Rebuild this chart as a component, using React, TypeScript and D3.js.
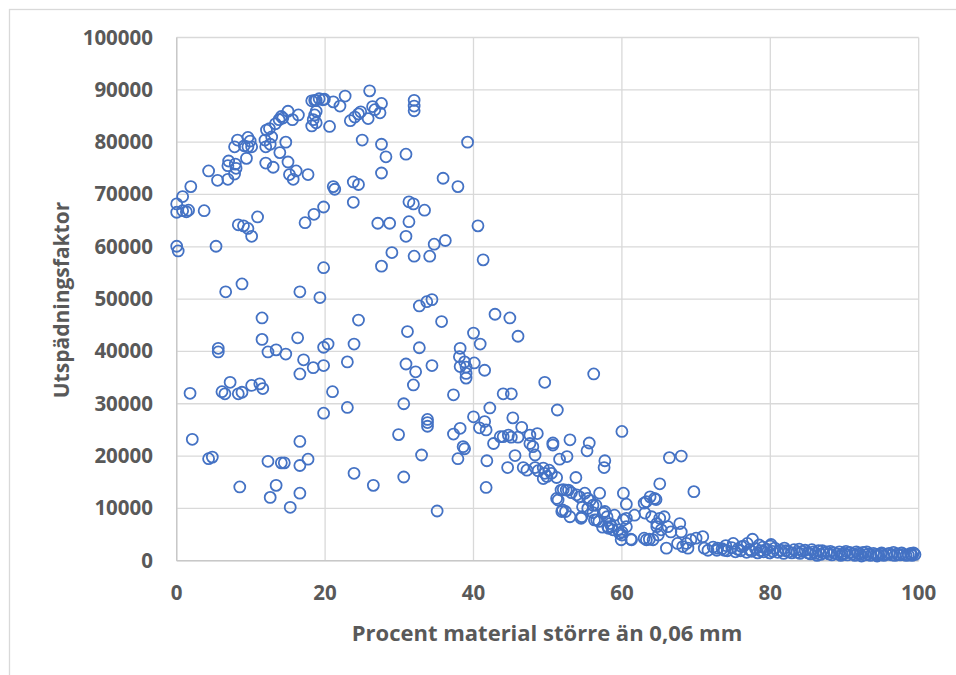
import React from "react";
import * as d3 from "d3";

// Procent material större än 0,06 mm (x) and Utspädningsfaktor (y)
const percentCoarse: number[] = [
  // upper cloud
  0, 0.8, 1.9, 0, 0.8, 1.3, 1.6, 3.7, 4.3, 5.5, 7.0, 6.9, 7.9, 8.0, 7.8, 6.9, 7.8, 8.2, 9.4, 9.6, 9.9, 10.1, 9.6, 9.1,
  12.0, 12.1, 12.5, 11.9, 12.8, 12.6, 12.0, 13.0, 13.9, 13.3, 13.8, 14.1, 14.3, 15.0, 15.6, 16.4, 14.7, 15.0, 15.2, 15.7,
  16.1, 17.7, 18.2, 18.6, 18.8, 19.2, 19.7, 19.9, 18.6, 18.8, 18.4, 18.2, 18.8, 20.6, 21.1, 22.0, 22.7, 26.0, 23.4, 24.0,
  24.5, 24.8, 25.8, 26.4, 26.7, 27.4, 27.6, 25.0, 27.6, 28.2, 27.6, 30.9, 32.0, 32.0, 32.0, 39.2, 35.9, 37.9, 21.1, 21.3,
  23.8, 24.5, 23.8, 19.8, 18.5, 17.3, 27.1, 28.7, 31.3, 31.9, 33.4, 31.3, 30.9, 34.7, 36.2, 29.0, 27.6, 32.0, 34.1, 40.6,
  41.3, 8.3, 9.0, 9.6, 10.1, 10.9, 5.3, 0, 0.2, 6.6, 8.8, 16.6, 19.3, 19.8, 11.5, 24.5, 32.7, 33.7, 34.4, 35.7, 31.1, 40.0,
  42.9, 44.9, 46.0, 40.9,
  // middle cloud
  11.5, 16.3, 5.6, 5.6, 12.3, 13.4, 14.7, 17.1, 18.4, 19.8, 19.8, 20.4, 16.6, 23.9, 23.0, 21.0, 30.9, 32.2, 31.9, 32.7,
  34.4, 38.2, 38.1, 38.2, 38.8, 39.0, 39.0, 39.0, 40.1, 41.5, 37.3, 1.8, 6.1, 6.5, 7.2, 8.3, 8.8, 10.1, 11.2, 11.6,
  // lower cloud
  23.0, 19.8, 30.6, 33.8, 33.8, 33.8, 37.3, 38.2, 40.0, 40.8, 41.5, 41.7, 42.2, 29.9, 38.6, 38.8, 37.9, 33.0, 2.1, 4.3,
  4.8, 16.6, 12.3, 14.1, 14.5, 16.6, 17.7, 23.9, 26.5, 30.6, 8.5, 13.4, 12.6, 16.6, 15.3, 35.1, 42.7, 43.6, 41.8, 41.7,
  // descending band 40-62
  49.6, 44.0, 45.1, 51.3, 45.3, 46.5, 60.0, 48.6, 47.6, 44.0, 44.7, 45.1, 46.0, 47.6, 48.0, 48.3, 50.7, 50.7, 53.0, 55.6,
  55.3, 57.7, 57.6, 51.6, 52.6, 45.6, 44.6, 46.7, 47.2, 48.3, 48.7, 49.4, 49.6, 49.9, 50.2, 50.5, 51.2, 49.4, 53.8, 52.1,
  52.8, 53.2, 51.2, 51.9, 52.4, 53.9, 54.3, 55.0, 55.4, 55.7, 56.1, 57.0, 53.0, 54.6, 55.4, 56.1, 56.6, 57.5, 58.0, 58.4,
  58.2, 58.6, 59.0, 59.5, 60.0, 60.0, 60.6, 60.2, 60.6, 61.3, 61.7, 60.2, 60.6, 56.2, 51.8, 52.5, 54.5, 54.7, 56.5, 57.7,
  56.3, 56.9, 57.4, 58.1, 58.8, 59.7, 59.9, 61.2, 52.0, 51.4,
  // 60-80
  63.3, 63.8, 64.4, 63.1, 64.0, 64.7, 63.3, 64.2, 64.7, 64.9, 65.1, 66.4, 68.0, 69.7, 63.0, 64.6, 65.1, 65.3, 66.2, 66.6,
  67.8, 68.0, 67.5, 68.2, 68.9, 68.7, 69.3, 70.0, 70.9, 71.1, 71.6, 72.9, 73.8, 75.0, 76.1, 77.6, 80.1, 66.0, 63.0, 63.7,
  65.7,
  // flat tail 72-100
  72.3, 72.8, 73.5, 74.2, 74.8, 75.3, 75.6, 76.0, 76.4, 76.8, 77.2, 77.5, 78.0, 78.3, 78.7, 79.1, 79.5, 79.9, 80.3, 80.6,
  81.0, 81.4, 81.8, 82.1, 82.5, 82.9, 83.2, 83.6, 84.0, 84.3, 84.7, 85.1, 85.4, 85.8, 86.1, 86.5, 86.8, 87.2, 87.6, 87.9,
  88.3, 88.6, 89.0, 89.3, 89.7, 90.0, 90.4, 90.7, 91.1, 91.4, 91.8, 92.1, 92.5, 92.8, 93.2, 93.5, 93.9, 94.2, 94.6, 94.9,
  95.3, 95.7, 96.0, 96.4, 96.8, 97.1, 97.5, 97.9, 98.3, 98.6, 99.0, 99.3, 99.5, 99.1, 98.9, 85.6, 83.9, 87.0, 80.0, 81.9,
  74.0, 76.9, 79.0, 78.5, 86.3, 88.1, 90.2, 91.6, 93.0, 95.0, 96.6, 97.7, 89.5, 92.3, 94.4,
];

const dilutionFactor: number[] = [
  // upper cloud
  68200, 69600, 71500, 66600, 66900, 66700, 67000, 66900, 74500, 72700, 76400, 75500, 75800, 75000, 73900, 72900, 79100, 80400, 76900, 80900, 80200, 79100, 79100, 79300,
  79100, 82300, 82600, 80400, 81000, 79600, 76000, 75200, 78000, 83500, 84300, 84900, 84600, 85900, 84300, 85200, 80000, 76200, 73800, 72900,
  74500, 73800, 87900, 88000, 88000, 88300, 88100, 88200, 85200, 85900, 84300, 83100, 83700, 83000, 87700, 86900, 88800, 89800, 84100, 84800,
  85400, 85800, 84500, 86800, 86200, 85600, 87400, 80400, 79600, 77200, 74100, 77700, 88000, 86900, 86000, 80000, 73100, 71500, 71500, 71000,
  72400, 71900, 68500, 67600, 66200, 64600, 64500, 64500, 68600, 68200, 67000, 64800, 62000, 60500, 61200, 58900, 56300, 58200, 58200, 64000,
  57500, 64200, 64000, 63500, 62000, 65700, 60100, 60100, 59200, 51400, 52900, 51400, 50300, 56000, 46400, 46000, 48700, 49500, 49900, 45700, 43800, 43500,
  47100, 46400, 42900, 41400,
  // middle cloud
  42300, 42600, 40600, 39900, 39900, 40300, 39500, 38400, 36900, 37300, 40800, 41400, 35700, 41400, 38000, 32300, 37600, 36100, 33600, 40700,
  37300, 40600, 39000, 37100, 38000, 37000, 35800, 34900, 37800, 36400, 31700, 32000, 32300, 31900, 34100, 31900, 32200, 33500, 33800, 32900,
  // lower cloud
  29300, 28200, 30000, 27000, 26400, 25700, 24200, 25300, 27500, 25400, 26600, 25000, 29200, 24100, 21800, 21400, 19500, 20200, 23200, 19500,
  19800, 22800, 19000, 18700, 18700, 18200, 19400, 16700, 14400, 16000, 14100, 14400, 12100, 12900, 10200, 9500, 22400, 23700, 19100, 14000,
  // descending band 40-62
  34100, 31900, 31900, 28800, 27300, 25500, 24700, 24300, 24000, 23700, 24000, 23600, 23600, 22400, 21800, 20200, 22500, 22100, 23100, 22500,
  21000, 19100, 17800, 19400, 19900, 20100, 17800, 17800, 17300, 17800, 17200, 17700, 16700, 16100, 17300, 16700, 15900, 15700, 15900, 13600,
  13500, 13000, 11900, 9400, 9400, 12600, 12200, 12900, 11900, 11500, 10600, 12900, 8400, 8400, 10000, 9200, 7800, 9100, 8400, 7100,
  6200, 6500, 8700, 5900, 4900, 5500, 6500, 7800, 8100, 4000, 8700, 12900, 10800, 35700, 13500, 13500, 8100, 10300, 10600, 9400,
  7800, 7500, 6400, 6500, 5900, 5200, 4000, 4100, 9700, 11600,
  // 60-80
  11300, 12200, 11900, 9100, 8400, 7100, 4000, 4000, 6500, 4900, 14700, 19700, 20000, 13200, 11000, 11700, 8100, 5900, 6500, 5500,
  7100, 5500, 3300, 2700, 2400, 3300, 4000, 4300, 4600, 2400, 2000, 2400, 2000, 3300, 2700, 4100, 3100, 2400, 4300, 4100,
  8400,
  // flat tail 72-100
  2600, 2000, 2300, 1900, 2500, 1700, 2200, 1900, 2800, 1600, 2100, 1800, 2300, 1500, 1900, 1700, 2200, 1500, 1800, 2400,
  1600, 2000, 1400, 1900, 1700, 1500, 2100, 1600, 1400, 1800, 2000, 1500, 1300, 1700, 1400, 1900, 1200, 1500, 1700, 1300,
  1100, 1500, 1300, 1700, 1200, 1400, 1100, 1600, 1300, 1000, 1400, 1200, 1600, 1100, 1300, 1000, 1400, 1200, 1100, 1300,
  1000, 1200, 1400, 1100, 1000, 1300, 1100, 1200, 1000, 1100, 1300, 1500, 1200, 1000, 1400, 2100, 2200, 1900, 2800, 2400,
  2900, 3300, 2600, 3000, 1000, 1800, 1800, 1700, 1700, 1500, 1600, 1500, 1000, 900, 900,
];

const xTicks = [0, 20, 40, 60, 80, 100];
const yTicks = [0, 10000, 20000, 30000, 40000, 50000, 60000, 70000, 80000, 90000, 100000];
const xTitle = "Procent material större än 0,06 mm";
const yTitle = "Utspädningsfaktor";

const W = 956;
const H = 675;
const plot = { left: 176.7, right: 918.7, top: 37.5, bottom: 560.7 };
const FONT = "'Open Sans', 'Liberation Sans', sans-serif";
const TEXT = "#595959";
const GRID = "#d9d9d9";
const MARK = "#4472C4";

export default function App() {
  const x = d3.scaleLinear().domain([0, 100]).range([plot.left, plot.right]);
  const y = d3.scaleLinear().domain([0, 100000]).range([plot.bottom, plot.top]);
  const n = Math.min(percentCoarse.length, dilutionFactor.length);
  const pts = d3.range(n).map((i) => [percentCoarse[i], dilutionFactor[i]]);

  return (
    <div style={{ position: "fixed", left: 0, top: 0, width: W, height: H, background: "#fff" }}>
      <svg width={W} height={H} style={{ display: "block" }}>
        <rect x={0} y={0} width={W} height={H} fill="#fff" />
        <rect x={9.5} y={9.5} width={W + 20} height={H + 20} fill="none" stroke={GRID} strokeWidth={1.3} />
        {yTicks.map((t) => (
          <line key={"gy" + t} x1={plot.left} x2={plot.right} y1={y(t)} y2={y(t)} stroke={GRID} strokeWidth={1.3} />
        ))}
        {xTicks.map((t) => (
          <line key={"gx" + t} x1={x(t)} x2={x(t)} y1={plot.top} y2={plot.bottom} stroke={GRID} strokeWidth={1.3} />
        ))}
        <line x1={plot.left} x2={plot.right} y1={y(0)} y2={y(0)} stroke="#c8c8c8" strokeWidth={1.4} />
        <line x1={x(0)} x2={x(0)} y1={plot.top} y2={plot.bottom} stroke="#c8c8c8" strokeWidth={1.4} />
        {yTicks.map((t) => (
          <text key={"ty" + t} x={153} y={y(t) + 7} textAnchor="end" fontFamily={FONT} fontWeight={700} fontSize={20.5} fill={TEXT}>
            {String(t)}
          </text>
        ))}
        {xTicks.map((t) => (
          <text key={"tx" + t} x={x(t)} y={599.5} textAnchor="middle" fontFamily={FONT} fontWeight={700} fontSize={20.5} fill={TEXT}>
            {String(t)}
          </text>
        ))}
        <text x={547} y={640.5} textAnchor="middle" fontFamily={FONT} fontWeight={700} fontSize={22} fill={TEXT}>
          {xTitle}
        </text>
        <text transform="translate(68.5,300) rotate(-90)" textAnchor="middle" fontFamily={FONT} fontWeight={700} fontSize={21} fill={TEXT}>
          {yTitle}
        </text>
        <g>
          {pts.map((p, i) => (
            <circle key={i} cx={x(p[0])} cy={y(p[1])} r={5.5} fill="none" stroke={MARK} strokeWidth={1.8} />
          ))}
        </g>
      </svg>
    </div>
  );
}
